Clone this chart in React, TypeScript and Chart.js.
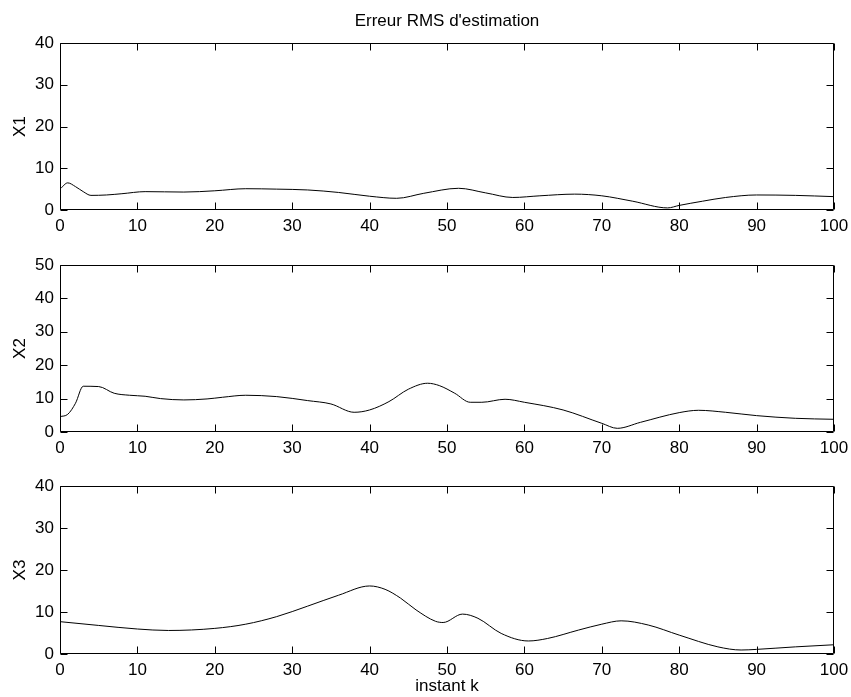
import React, { useEffect, useRef } from "react";
import { Chart, registerables } from "chart.js";

Chart.register(...registerables);

const FONT_FAMILY = "'Liberation Sans', Arial, Helvetica, sans-serif";

const chartTitle = "Erreur RMS d'estimation";
const xAxisTitle = "instant k";
const yLabels = ["X1", "X2", "X3"];
const yMaxes = [40, 50, 40];
const xMin = 0;
const xMax = 100;
const tickStep = 10;

// X1 error
const k1 = [0, 1, 2, 3, 4, 6, 8, 11, 16, 20, 24, 28, 32, 36, 40, 43.5, 47, 51.5, 55, 58.5, 62, 66.5, 70, 74, 78.5, 80, 83, 86, 90, 95, 100];
const v1 = [5.0, 6.5, 5.6, 4.4, 3.5, 3.6, 3.9, 4.4, 4.3, 4.6, 5.1, 5.0, 4.8, 4.2, 3.3, 2.8, 4.0, 5.2, 4.1, 3.0, 3.4, 3.8, 3.4, 2.1, 0.5, 1.1, 2.1, 3.0, 3.6, 3.5, 3.2];

// X2 error
const k2 = [0, 1, 2, 3, 5, 7, 9, 11, 13, 16, 19, 21, 24, 28, 32, 35, 38, 40, 42.5, 45, 47.5, 49, 51, 53, 54.5, 57.5, 60, 65, 70, 72, 75, 80, 82.5, 86, 90, 95, 100];
const v2 = [4.6, 5.3, 8.6, 13.7, 13.6, 11.6, 11.0, 10.7, 10.0, 9.6, 9.9, 10.4, 11.0, 10.6, 9.4, 8.4, 5.9, 6.6, 9.1, 12.8, 14.6, 13.9, 11.6, 8.9, 8.9, 9.8, 8.9, 6.6, 2.6, 1.1, 2.9, 5.8, 6.5, 5.9, 4.9, 4.1, 3.8];

// X3 error
const k3 = [0, 5, 10, 14, 20, 24, 28, 32, 36, 40, 42, 44, 46, 48.5, 49.5, 52, 54, 57, 60.5, 63, 67, 70, 72.5, 76, 80, 85, 88, 90, 95, 100];
const v3 = [7.7, 6.8, 5.95, 5.6, 6.1, 7.1, 8.9, 11.4, 14.0, 16.2, 15.4, 13.3, 10.5, 7.8, 7.5, 9.5, 8.5, 4.9, 3.1, 3.7, 5.7, 7.1, 7.9, 6.9, 4.5, 1.7, 0.95, 1.1, 1.7, 2.2];

const boxPlugin = {
  id: "matlabBox",
  afterDatasetsDraw(chart: any) {
    const { ctx, chartArea: a, scales } = chart;
    const L = Math.round(a.left) + 0.5;
    const R = Math.round(a.right) - 0.5;
    const T = Math.round(a.top) + 0.5;
    const B = Math.round(a.bottom) - 0.5;
    const len = 7;
    ctx.save();
    ctx.strokeStyle = "#000";
    ctx.lineWidth = 1;
    ctx.beginPath();
    ctx.rect(L, T, R - L, B - T);
    ctx.stroke();
    ctx.beginPath();
    scales.x.ticks.forEach((t: any) => {
      const px = Math.round(scales.x.getPixelForValue(t.value)) + 0.5;
      ctx.moveTo(px, B);
      ctx.lineTo(px, B - len);
      ctx.moveTo(px, T);
      ctx.lineTo(px, T + len);
    });
    scales.y.ticks.forEach((t: any) => {
      const py = Math.round(scales.y.getPixelForValue(t.value)) + 0.5;
      ctx.moveTo(L, py);
      ctx.lineTo(L + len, py);
      ctx.moveTo(R, py);
      ctx.lineTo(R - len, py);
    });
    ctx.stroke();
    ctx.restore();
  },
};

type SubProps = {
  top: number;
  height: number;
  padTop: number;
  xHeight: number;
  yMax: number;
  ks: number[];
  vals: number[];
  yLabel: string;
  title?: string;
  xTitle?: string;
};

function Subplot(p: SubProps) {
  const ref = useRef<HTMLCanvasElement | null>(null);
  useEffect(() => {
    if (!ref.current) return;
    const font = { family: FONT_FAMILY, size: 17 };
    const scales: any = {
      x: {
        type: "linear",
        position: "bottom",
        min: xMin,
        max: xMax,
        ticks: { stepSize: tickStep, color: "#000", font, padding: 6, maxRotation: 0, autoSkip: false },
        grid: { display: false, drawTicks: false },
        border: { display: false },
        title: {
          display: !!p.xTitle,
          text: p.xTitle || "",
          color: "#000",
          font,
          padding: { top: 0, bottom: 0 },
        },
        afterFit: (s: any) => {
          s.height = p.xHeight;
          s.paddingLeft = 0;
          s.paddingRight = 0;
        },
      },
      y: {
        type: "linear",
        position: "left",
        min: 0,
        max: p.yMax,
        ticks: { stepSize: tickStep, color: "#000", font, padding: 6 },
        grid: { display: false, drawTicks: false },
        border: { display: false },
        title: {
          display: true,
          text: p.yLabel,
          color: "#000",
          font,
          padding: { top: 10, bottom: 0 },
        },
        afterFit: (s: any) => {
          s.width = 60;
          s.paddingTop = 0;
          s.paddingBottom = 0;
        },
      },
    };
    if (p.title) {
      scales.top = {
        type: "linear",
        position: "top",
        min: xMin,
        max: xMax,
        ticks: { display: false },
        grid: { display: false, drawTicks: false },
        border: { display: false },
        title: {
          display: true,
          text: p.title,
          color: "#000",
          font,
          padding: { top: 11, bottom: 0 },
        },
        afterFit: (s: any) => {
          s.height = 43;
          s.paddingLeft = 0;
          s.paddingRight = 0;
        },
      };
    }
    const chart = new Chart(ref.current, {
      type: "line",
      data: {
        datasets: [
          {
            data: p.ks.map((k, i) => ({ x: k, y: p.vals[i] })),
            borderColor: "#000",
            borderWidth: 1,
            pointRadius: 0,
            fill: false,
            cubicInterpolationMode: "monotone",
            xAxisID: "x",
            yAxisID: "y",
          },
        ],
      },
      options: {
        responsive: false,
        animation: false,
        events: [],
        layout: { padding: { left: 0, right: 17, top: p.padTop, bottom: 0 } },
        plugins: {
          legend: { display: false },
          tooltip: { enabled: false },
          title: { display: false },
        },
        scales,
      } as any,
      plugins: [boxPlugin],
    });
    return () => chart.destroy();
  }, []);
  return (
    <canvas
      ref={ref}
      width={851}
      height={p.height}
      style={{ position: "absolute", left: 0, top: p.top, width: 851, height: p.height }}
    />
  );
}

export default function App() {
  return (
    <div style={{ position: "fixed", left: 0, top: 0, width: 851, height: 697, background: "#fff", overflow: "hidden" }}>
      <Subplot top={0} height={240} padTop={0} xHeight={30} yMax={yMaxes[0]} ks={k1} vals={v1} yLabel={yLabels[0]} title={chartTitle} />
      <Subplot top={240} height={222} padTop={25} xHeight={30} yMax={yMaxes[1]} ks={k2} vals={v2} yLabel={yLabels[1]} />
      <Subplot top={462} height={235} padTop={24} xHeight={43} yMax={yMaxes[2]} ks={k3} vals={v3} yLabel={yLabels[2]} xTitle={xAxisTitle} />
    </div>
  );
}
